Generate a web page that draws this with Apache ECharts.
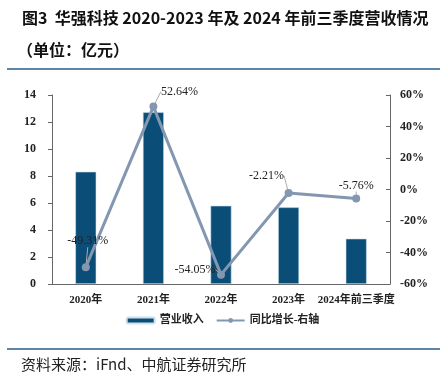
<!DOCTYPE html>
<html>
<head>
<meta charset="utf-8">
<script src="https://cdn.jsdelivr.net/npm/echarts@6/dist/echarts.min.js"></script>
<style>
body { margin: 0; background: #fff; }
#main { width: 445px; height: 376px; }
</style>
</head>
<body>
<div id="main"></div>
<script>
var categories = ['2020年', '2021年', '2022年', '2023年', '2024年前三季度'];
var revenue = [8.32, 12.72, 5.8, 5.68, 3.36];
var growth = [-49.31, 52.64, -54.05, -2.21, -5.76];
// 标签偏移
var labelShift = [[2, -26], [26, -15], [-26, -5], [-22, -17], [0, -13]];

var chart = echarts.init(document.getElementById('main'));
var serif = '"Liberation Serif", "Noto Sans CJK SC", serif';
var option = {
    animation: false,
    title: [{
        text: '图3  华强科技 2020-2023 年及 2024 年前三季度营收情况',
        left: 17, top: 5,
        textStyle: { fontSize: 16, fontWeight: 'bold', color: '#111', fontFamily: '"Noto Sans CJK SC"' }
    }, {
        text: '（单位：亿元）',
        left: 12, top: 37,
        textStyle: { fontSize: 16, fontWeight: 'bold', color: '#111', fontFamily: '"Noto Sans CJK SC"' }
    }, {
        text: '资料来源：iFnd、中航证券研究所',
        left: 16, top: 352,
        textStyle: { fontSize: 15, fontWeight: 'normal', color: '#222', fontFamily: '"Noto Sans CJK SC"' }
    }],
    graphic: [
        { type: 'line', shape: { x1: 7, y1: 69, x2: 440, y2: 69 }, style: { stroke: '#2b5b8c', lineWidth: 1.5 } },
        { type: 'line', shape: { x1: 7, y1: 349, x2: 440, y2: 349 }, style: { stroke: '#2b5b8c', lineWidth: 1.5 } }
    ],
    legend: {
        bottom: 45,
        left: 'center',
        itemGap: 12,
        itemWidth: 28,
        itemHeight: 6,
        textStyle: { fontSize: 11, fontWeight: 'bold', color: '#222', fontFamily: serif },
        data: ['营业收入', '同比增长-右轴']
    },
    grid: { left: 52, right: 55, top: 95, bottom: 92 },
    xAxis: {
        type: 'category',
        data: categories,
        axisTick: { show: false },
        axisLine: { lineStyle: { color: '#666' } },
        axisLabel: { fontSize: 11, fontWeight: 'bold', color: '#222', margin: 11, interval: 0, fontFamily: serif }
    },
    yAxis: [{
        type: 'value',
        min: 0, max: 14, interval: 2,
        splitLine: { show: false },
        axisLine: { show: true, lineStyle: { color: '#666' } },
        axisTick: { show: true, length: 4 },
        axisLabel: { fontSize: 12, fontWeight: 'bold', color: '#222', margin: 16, fontFamily: serif }
    }, {
        type: 'value',
        min: -60, max: 60, interval: 20,
        splitLine: { show: false },
        axisLine: { show: true, lineStyle: { color: '#666' } },
        axisTick: { show: true, inside: true, length: 4 },
        axisLabel: { fontSize: 12, fontWeight: 'bold', color: '#222', margin: 10, formatter: '{value}%', fontFamily: serif }
    }],
    series: [{
        name: '营业收入',
        type: 'bar',
        barWidth: 21,
        data: revenue,
        itemStyle: { color: '#0a4e78', borderColor: '#cfe0ee', borderWidth: 0.6 }
    }, {
        name: '同比增长-右轴',
        type: 'line',
        yAxisIndex: 1,
        data: growth,
        symbol: 'circle',
        symbolSize: 8,
        lineStyle: { color: '#8497b0', width: 3 },
        itemStyle: { color: '#8497b0' },
        label: {
            show: true,
            position: 'inside',
            fontSize: 12,
            color: '#222',
            fontFamily: serif,
            formatter: function (p) { return p.value.toFixed(2) + '%'; }
        },
        labelLine: { show: true, lineStyle: { color: '#aaa', width: 1 } },
        labelLayout: function (p) {
            var s = labelShift[p.dataIndex];
            return { dx: s[0], dy: s[1] };
        }
    }]
};
chart.setOption(option);
</script>
</body>
</html>
